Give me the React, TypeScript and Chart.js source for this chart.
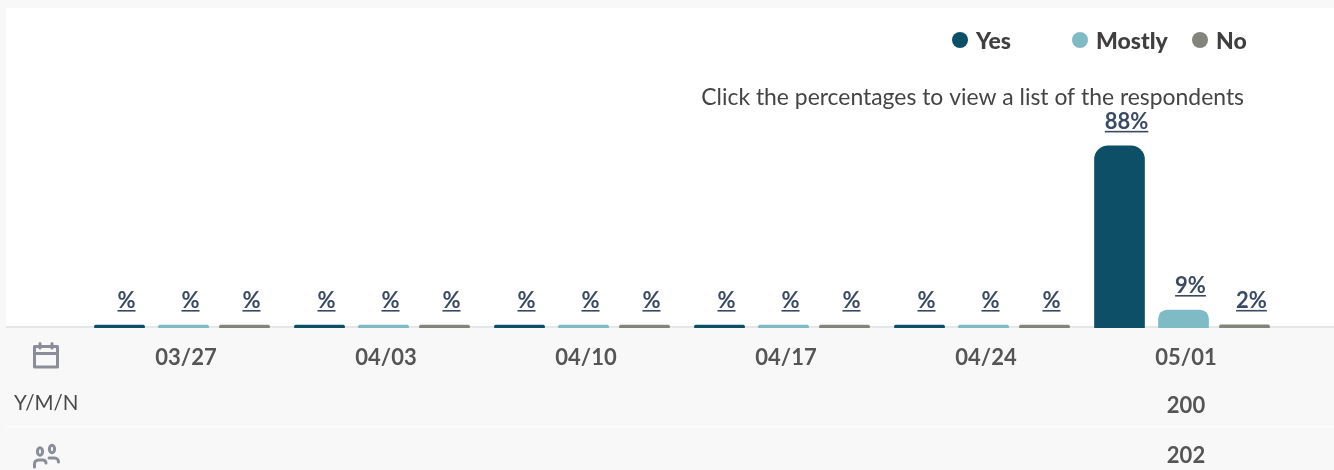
import React, { useEffect, useRef } from "react";
import { Chart, registerables } from "chart.js";

Chart.register(...registerables);

const categories = ["03/27", "04/03", "04/10", "04/17", "04/24", "05/01"];
const yesValues = [0, 0, 0, 0, 0, 88];
const mostlyValues = [0, 0, 0, 0, 0, 8.7];
const noValues = [0, 0, 0, 0, 0, 1.5];
const yesLabels = ["%", "%", "%", "%", "%", "88%"];
const mostlyLabels = ["%", "%", "%", "%", "%", "9%"];
const noLabels = ["%", "%", "%", "%", "%", "2%"];
const ymnRow = ["", "", "", "", "", "200"];
const respondentRow = ["", "", "", "", "", "202"];
const hint = "Click the percentages to view a list of the respondents";
const rowTitle = "Y/M/N";

const FONT = "Lato, 'Open Sans', sans-serif";
const seriesOffsets = [-66.5, -2.5, 58.5];
const seriesLabels = [yesLabels, mostlyLabels, noLabels];

const sketchPlugin = {
  id: "sketch",
  beforeDraw(chart: any) {
    const c = chart.ctx;
    c.save();
    c.fillStyle = "#f8f8f8";
    c.fillRect(0, 0, 1334, 470);
    c.fillStyle = "#ffffff";
    c.fillRect(6, 8, 1328, 318);
    c.fillStyle = "#e6e6e6";
    c.fillRect(6, 326, 1328, 2);
    c.fillStyle = "#ffffff";
    c.fillRect(6, 426, 1328, 1);
    c.restore();
  },
  afterDatasetsUpdate(chart: any) {
    chart.data.datasets.forEach((_: any, d: number) => {
      chart.getDatasetMeta(d).data.forEach((el: any, i: number) => {
        el.x = chart.scales.x.getPixelForValue(i) + seriesOffsets[d];
      });
    });
  },
  afterDatasetsDraw(chart: any) {
    const c = chart.ctx;
    c.save();
    // value labels with underline
    c.font = `700 22px ${FONT}`;
    c.fillStyle = "#3b4a63";
    c.textAlign = "center";
    c.textBaseline = "alphabetic";
    chart.data.datasets.forEach((_: any, d: number) => {
      chart.getDatasetMeta(d).data.forEach((el: any, i: number) => {
        const text = seriesLabels[d][i];
        const cx = el.x + 7;
        const base = el.y - 17;
        c.fillText(text, cx, base);
        const w = c.measureText(text).width;
        c.fillRect(cx - w / 2, base + 2, w, 1.6);
      });
    });
    // legend
    const legendDots = [960, 1080, 1200];
    c.textAlign = "left";
    c.textBaseline = "middle";
    c.font = `900 23px ${FONT}`;
    chart.data.datasets.forEach((ds: any, d: number) => {
      c.fillStyle = ds.backgroundColor;
      c.beginPath();
      c.arc(legendDots[d], 40, 8, 0, Math.PI * 2);
      c.fill();
      c.fillStyle = "#3f3f3f";
      c.fillText(ds.label, legendDots[d] + 16, 42);
    });
    // hint
    c.font = `400 22.9px ${FONT}`;
    c.fillStyle = "#444444";
    c.textAlign = "right";
    c.fillText(hint, 1244, 97.5);
    // rows
    c.textAlign = "left";
    c.font = `400 20.5px ${FONT}`;
    c.fillStyle = "#4a4a4a";
    c.fillText(rowTitle, 14, 403);
    c.textAlign = "center";
    c.font = `700 22px ${FONT}`;
    c.fillStyle = "#555555";
    categories.forEach((_, i) => {
      const x = chart.scales.x.getPixelForValue(i);
      c.fillText(ymnRow[i], x, 406);
      c.fillText(respondentRow[i], x, 456);
    });
    // calendar icon
    c.strokeStyle = "#8b8d98";
    c.lineWidth = 3;
    c.lineJoin = "round";
    c.lineCap = "round";
    c.strokeRect(34.5, 346.5, 23, 20.5);
    c.beginPath();
    c.moveTo(34.5, 353.5);
    c.lineTo(57.5, 353.5);
    c.moveTo(40, 343.5);
    c.lineTo(40, 348);
    c.moveTo(52, 343.5);
    c.lineTo(52, 348);
    c.stroke();
    // people icon
    c.beginPath();
    c.ellipse(40, 451.5, 2.6, 3.8, 0, 0, Math.PI * 2);
    c.moveTo(54.6, 449);
    c.ellipse(52, 449, 2.6, 3.8, 0, 0, Math.PI * 2);
    c.moveTo(34.5, 467);
    c.arcTo(34.5, 460, 40, 460, 4);
    c.lineTo(42, 460);
    c.arcTo(46, 460, 46, 467, 3);
    c.moveTo(49, 458);
    c.lineTo(54, 458);
    c.arcTo(58.5, 458, 58.5, 463, 4);
    c.stroke();
    c.restore();
  },
};

export default function App() {
  const ref = useRef<HTMLCanvasElement>(null);
  useEffect(() => {
    document.body.style.margin = "0";
    const chart = new Chart(ref.current as HTMLCanvasElement, {
      type: "bar",
      data: {
        labels: categories,
        datasets: [
          { label: "Yes", data: yesValues, backgroundColor: "#0d4f66" },
          { label: "Mostly", data: mostlyValues, backgroundColor: "#7fbbc4" },
          { label: "No", data: noValues, backgroundColor: "#84847a" },
        ],
      },
      options: {
        responsive: false,
        animation: false,
        layout: { padding: { left: 86, right: 48, top: 121, bottom: 0 } },
        datasets: {
          bar: {
            grouped: false,
            barThickness: 50,
            minBarLength: 3,
            borderRadius: { topLeft: 14, topRight: 14, bottomLeft: 0, bottomRight: 0 },
            borderSkipped: false,
          },
        },
        plugins: { legend: { display: false }, tooltip: { enabled: false } },
        scales: {
          x: {
            grid: { display: false },
            border: { display: false },
            afterFit: (s: any) => { s.height = 142; },
            ticks: {
              padding: 9,
              maxRotation: 0,
              color: "#555555",
              font: { family: FONT, size: 22, weight: 700 },
            },
          },
          y: { display: false, min: 0, max: 100 },
        },
      } as any,
      plugins: [sketchPlugin],
    });
    return () => chart.destroy();
  }, []);
  return (
    <div style={{ position: "absolute", left: 0, top: 0, width: 1334, height: 470, overflow: "hidden" }}>
      <canvas ref={ref} width={1334} height={470} style={{ display: "block" }} />
    </div>
  );
}
